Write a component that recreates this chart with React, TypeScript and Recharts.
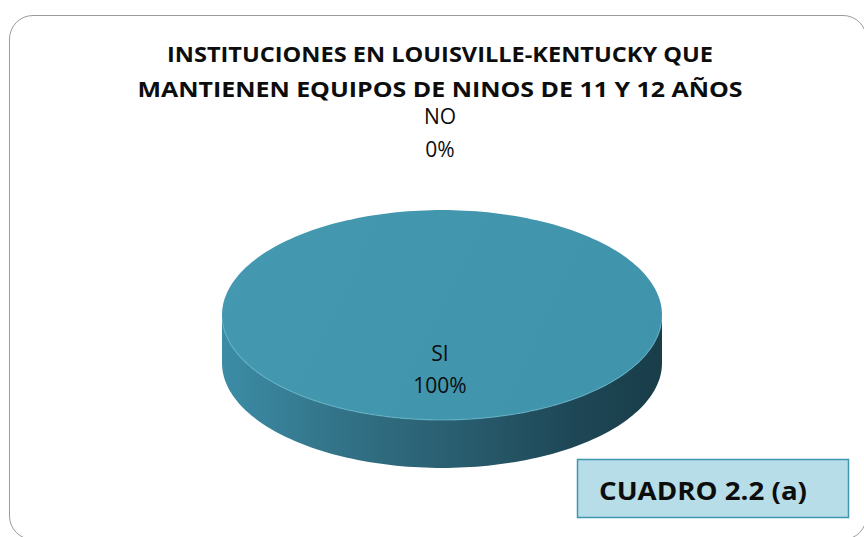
import React from "react";
import { PieChart, Pie, Cell } from "recharts";

const categories = ["SI", "NO"];
const values = [100, 0];
const titleLines = [
  "INSTITUCIONES EN LOUISVILLE-KENTUCKY QUE",
  "MANTIENEN EQUIPOS DE NINOS DE 11 Y 12 AÑOS",
];
const boxLabel = "CUADRO 2.2 (a)";

const data = categories.map((name, i) => ({ name, value: values[i] }));

const W = 864;
const H = 537;
const TILT = 0.477;
const DEPTH = 48;
const RAD = Math.PI / 180;
const FONT = "'Open Sans', Lato, sans-serif";

function pt(cx: number, cy: number, rx: number, ry: number, deg: number, dy = 0) {
  return [cx + rx * Math.cos(-deg * RAD), cy + ry * Math.sin(-deg * RAD) + dy];
}

function arcPoints(cx: number, cy: number, rx: number, ry: number, a: number, b: number, dy = 0) {
  const n = Math.max(2, Math.ceil(Math.abs(b - a) / 1.5));
  const out: number[][] = [];
  for (let i = 0; i <= n; i++) {
    out.push(pt(cx, cy, rx, ry, a + ((b - a) * i) / n, dy));
  }
  return out;
}

function toPath(points: number[][]) {
  return points.map((p, i) => `${i ? "L" : "M"}${p[0].toFixed(2)},${p[1].toFixed(2)}`).join(" ");
}

function Slice3D(props: any) {
  const { cx, cy, outerRadius, startAngle, endAngle, fill } = props;
  if (Math.abs(endAngle - startAngle) < 0.01) return <g />;
  const rx = outerRadius;
  const ry = outerRadius * TILT;
  const lo = Math.min(startAngle, endAngle);
  const hi = Math.max(startAngle, endAngle);
  const full = hi - lo >= 359.99;

  const sides: string[] = [];
  for (let k = -2; k <= 1; k++) {
    const fa = Math.max(lo, 180 + 360 * k);
    const fb = Math.min(hi, 360 + 360 * k);
    if (fb > fa) {
      const top = arcPoints(cx, cy, rx, ry, fa, fb);
      const bot = arcPoints(cx, cy, rx, ry, fb, fa, DEPTH);
      sides.push(toPath([...top, ...bot]) + " Z");
    }
  }

  const topArc = arcPoints(cx, cy, rx, ry, lo, hi);
  const topPath = full ? toPath(topArc) + " Z" : toPath([[cx, cy], ...topArc]) + " Z";
  const rim = toPath(arcPoints(cx, cy, rx, ry, 185, 355));

  return (
    <g>
      <defs>
        <linearGradient id="sideGrad" gradientUnits="userSpaceOnUse" x1={cx - rx} y1={0} x2={cx + rx} y2={0}>
          <stop offset="0" stopColor="#3c8ca6" />
          <stop offset="0.25" stopColor="#337489" />
          <stop offset="0.5" stopColor="#2a6072" />
          <stop offset="0.8" stopColor="#1e4756" />
          <stop offset="1" stopColor="#193d49" />
        </linearGradient>
        <linearGradient id="topGrad" gradientUnits="userSpaceOnUse" x1={cx - rx} y1={cy - ry} x2={cx + rx} y2={cy + ry}>
          <stop offset="0" stopColor="#4499b1" />
          <stop offset="1" stopColor="#3f93ab" />
        </linearGradient>
      </defs>
      {sides.map((d, i) => (
        <path key={i} d={d} fill="url(#sideGrad)" stroke="none" />
      ))}
      <path d={topPath} fill={fill || "url(#topGrad)"} stroke="none" />
      <path d={rim} fill="none" stroke="#63b3c8" strokeWidth={1.2} strokeOpacity={0.7} />
    </g>
  );
}

function renderLabel(props: any) {
  const { cx, cy, midAngle, outerRadius, percent, name } = props;
  const inside = percent > 0.5;
  const r = outerRadius * (inside ? 0.52 : 1.73);
  const x = cx + r * Math.cos(-midAngle * RAD) - 2;
  const y = cy + r * TILT * Math.sin(-midAngle * RAD);
  return (
    <text
      x={x}
      y={y}
      textAnchor="middle"
      fontFamily={FONT}
      fontSize={21}
      fill="#0d0d0d"
    >
      <tspan x={x} dy={-9}>{name}</tspan>
      <tspan x={x} dy={32.5}>{`${Math.round(percent * 100)}%`}</tspan>
    </text>
  );
}

export default function App() {
  return (
    <div style={{ position: "absolute", left: 0, top: 0, width: W, height: H, overflow: "hidden", background: "#fff" }}>
      <div
        style={{
          position: "absolute",
          left: 9,
          top: 15,
          width: 858,
          height: 525,
          border: "1.5px solid #9b9b9b",
          borderRadius: 24,
          boxSizing: "border-box",
        }}
      />
      <div style={{ position: "absolute", left: 0, top: 0 }}>
        <PieChart width={W} height={H} margin={{ top: 0, right: 0, bottom: 0, left: 0 }}>
          <text x={440} y={62} textAnchor="middle" fontFamily={FONT} fontWeight={700} fontSize={22} fill="#0d0d0d" textLength={546} lengthAdjust="spacingAndGlyphs">
            {titleLines[0]}
          </text>
          <text x={440} y={97} textAnchor="middle" fontFamily={FONT} fontWeight={700} fontSize={22} fill="#0d0d0d" textLength={605} lengthAdjust="spacingAndGlyphs">
            {titleLines[1]}
          </text>
          <Pie
            data={data}
            dataKey="value"
            nameKey="name"
            cx={442}
            cy={315}
            outerRadius={220}
            startAngle={90}
            endAngle={-270}
            stroke="none"
            isAnimationActive={false}
            labelLine={false}
            label={renderLabel}
            shape={Slice3D}
            activeShape={Slice3D}
            inactiveShape={Slice3D}
          >
            {data.map((d, i) => (
              <Cell key={d.name} fill={i === 0 ? "url(#topGrad)" : "#c0504d"} />
            ))}
          </Pie>
          <rect x={577.5} y={459.5} width={271} height={58} fill="#b7dee8" stroke="#3f96ae" strokeWidth={1.5} />
          <text x={599} y={500} fontFamily={FONT} fontWeight={700} fontSize={25} fill="#0d0d0d" textLength={208} lengthAdjust="spacingAndGlyphs">
            {boxLabel}
          </text>
        </PieChart>
      </div>
    </div>
  );
}
